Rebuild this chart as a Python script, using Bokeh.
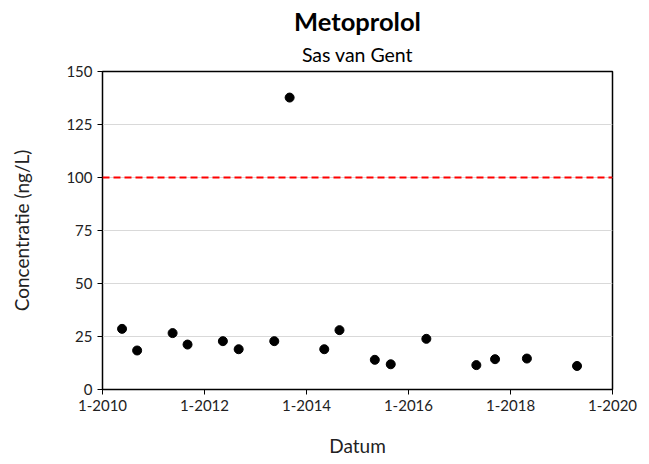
from datetime import datetime
from bokeh.plotting import figure
from bokeh.models import (Range1d, Span, FixedTicker, DatetimeTickFormatter, Title, ColumnDataSource)
from bokeh.embed import file_html
from bokeh.resources import INLINE

dates = ["2010-05-21", "2010-09-06", "2011-05-18", "2011-09-02", "2012-05-12",
         "2012-09-02", "2013-05-15", "2013-09-02", "2014-05-08", "2014-08-25",
         "2015-05-05", "2015-08-27", "2016-05-08", "2017-05-01", "2017-09-12",
         "2018-04-28", "2019-04-22"]
conc = [28.6, 18.4, 26.6, 21.2, 22.8, 19.0, 22.8, 137.7, 19.0, 28.0,
        14.0, 11.9, 23.9, 11.5, 14.3, 14.6, 11.1]
limit = 100
tick_years = [2010, 2012, 2014, 2016, 2018, 2020]
y_ticks = [0, 25, 50, 75, 100, 125, 150]

FONT = "Lato"

src = ColumnDataSource(dict(x=[datetime.strptime(d, "%Y-%m-%d") for d in dates], y=conc))

p = figure(width=649, height=464, output_backend="svg", toolbar_location=None,
           x_axis_type="datetime",
           x_range=Range1d(datetime(2010, 1, 1), datetime(2020, 1, 1)),
           y_range=Range1d(0, 150),
           min_border_left=102, min_border_right=37, min_border_top=71, min_border_bottom=75)

p.title.text = "Metoprolol"
p.title.align = "center"
p.title.text_font = FONT
p.title.text_font_size = "25.5px"
p.title.text_font_style = "bold"
p.title.text_color = "black"
p.title.offset = 0
p.title.standoff = 0
p.add_layout(Title(text="Sas van Gent", align="center", text_font=FONT,
                   text_font_size="19.5px", text_font_style="normal", text_color="black",
                   standoff=11), "above")

p.scatter("x", "y", source=src, size=9, color="black")

p.add_layout(Span(location=limit, dimension="width", line_color="#ff0000",
                  line_width=2, line_dash="7 4"))

ms = [datetime(y, 1, 1).timestamp() * 1000 for y in tick_years]
p.xaxis.ticker = FixedTicker(ticks=ms)
fmt = "1-%Y"
p.xaxis.formatter = DatetimeTickFormatter(years=fmt, months=fmt, days=fmt, hours=fmt,
                                          minutes=fmt, seconds=fmt, milliseconds=fmt,
                                          microseconds=fmt, hourmin=fmt, minsec=fmt)
p.yaxis.ticker = FixedTicker(ticks=y_ticks)

for ax in (p.xaxis[0], p.yaxis[0]):
    ax.axis_line_color = "black"
    ax.major_tick_line_color = "black"
    ax.minor_tick_line_color = None
    ax.major_tick_out = 5
    ax.major_tick_in = 0
    ax.major_label_text_font = FONT
    ax.major_label_text_font_size = "15px"
    ax.major_label_text_color = "#222222"
    ax.axis_label_text_font = FONT
    ax.axis_label_text_font_size = "19px"
    ax.axis_label_text_font_style = "normal"
    ax.axis_label_text_color = "#222222"

p.xaxis.axis_label = "Datum"
p.yaxis.axis_label = "Concentratie (ng/L)"
p.xaxis.axis_label_standoff = 20
p.yaxis.axis_label_standoff = 30

p.xgrid.grid_line_color = None
p.ygrid.grid_line_color = "#d9d9d9"
p.ygrid.ticker = FixedTicker(ticks=y_ticks)
p.outline_line_color = "black"
p.outline_line_width = 1.5
p.background_fill_color = "white"
p.border_fill_color = "white"

open("out.html", "w").write(file_html(p, INLINE))
